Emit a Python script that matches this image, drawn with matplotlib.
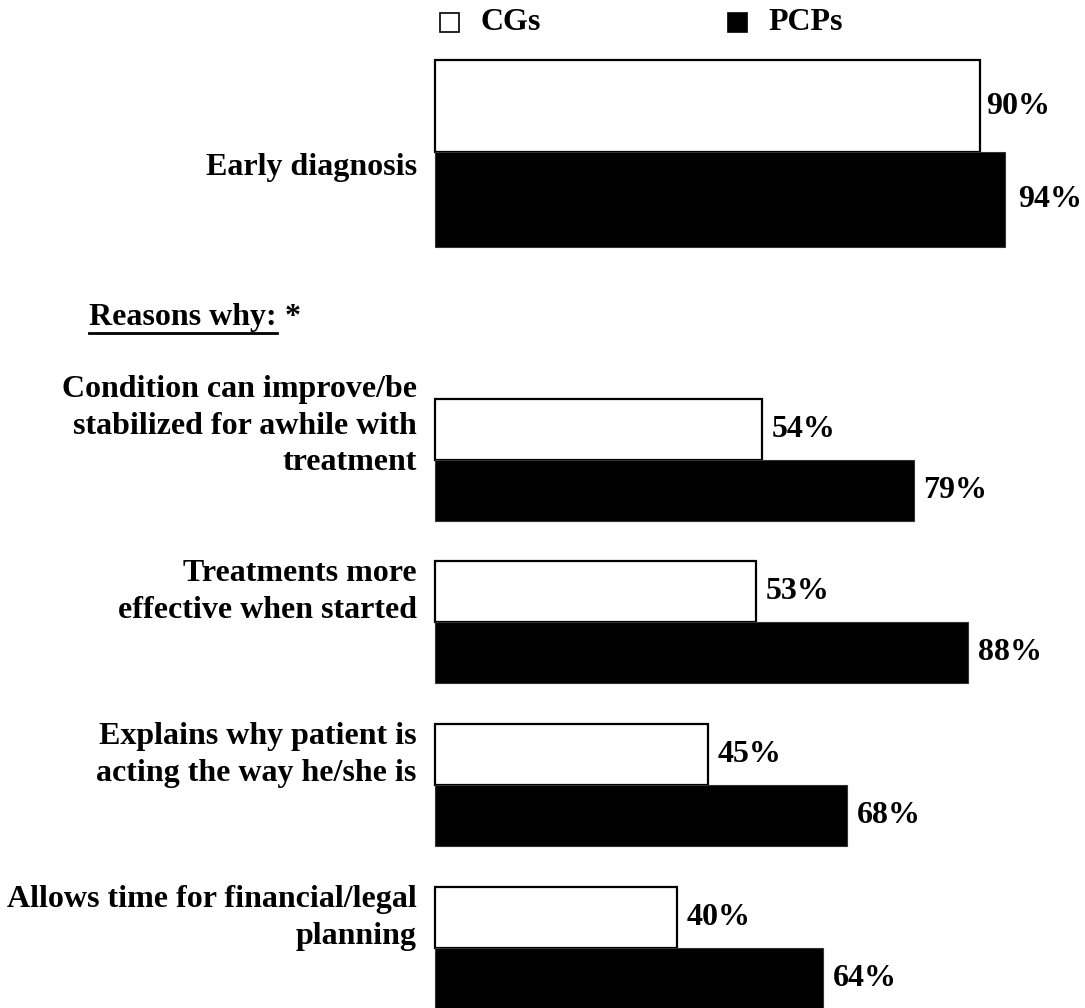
import matplotlib
matplotlib.use("Agg")
import matplotlib.pyplot as plt
from matplotlib.patches import Rectangle
from matplotlib.lines import Line2D

# chart data
categories = ["Early diagnosis",
              "Condition can improve/be\nstabilized for awhile with\ntreatment",
              "Treatments more\neffective when started",
              "Explains why patient is\nacting the way he/she is",
              "Allows time for financial/legal\nplanning"]
cg_values = [90, 54, 53, 45, 40]
pcp_values = [94, 79, 88, 68, 64]
series_names = ["CGs", "PCPs"]
section_title = "Reasons why:"

# layout, in pixels of the 1085 x 1008 figure
W, H = 1085, 1008
split_y = [152, 460, 622, 785, 948]   # line between the two bars of a group
cg_h = [92, 61, 61, 61, 61]
pcp_h = [95, 61, 61, 61, 61]
label_y = [168, 426, 592, 755, 918]
cg_off = [4, 7, 7, 7, 7]      # gap bar end -> value label (points)
pcp_off = [10, 7, 7, 7, 7]

plt.rcParams['font.family'] = ['Liberation Serif', 'DejaVu Serif']
plt.rcParams['font.weight'] = 'bold'
FS = 23

fig = plt.figure(figsize=(W / 100, H / 100), dpi=100)
# x axis: 0 % at pixel 435, 6.06 px per %
ax = fig.add_axes([435 / W, 0, 606 / W, 1])
ax.set_xlim(0, 100)
ax.set_ylim(H, 0)
ax.axis('off')

cg_top = [s - h for s, h in zip(split_y, cg_h)]
ax.barh(cg_top, cg_values, height=cg_h, align='edge', color='white',
        edgecolor='black', linewidth=1.6, clip_on=False)
ax.barh(split_y, pcp_values, height=pcp_h, align='edge', color='black',
        edgecolor='#333333', linewidth=0.8, clip_on=False)

for i, cat in enumerate(categories):
    ax.text(-3, label_y[i], cat, ha='right', va='center', fontsize=FS,
            linespacing=1.35, clip_on=False)
    ax.annotate(f"{cg_values[i]}%", (cg_values[i], split_y[i] - cg_h[i] / 2),
                xytext=(cg_off[i], 0), textcoords='offset points', ha='left',
                va='center', fontsize=FS)
    ax.annotate(f"{pcp_values[i]}%", (pcp_values[i], split_y[i] + pcp_h[i] / 2),
                xytext=(pcp_off[i], 0), textcoords='offset points', ha='left',
                va='center', fontsize=FS)

# legend across the top
fig.add_artist(Rectangle((440 / W, 1 - 32 / H), 19 / W, 19 / H, facecolor='white',
                         edgecolor='black', linewidth=1.2))
fig.text(480 / W, 1 - 22 / H, series_names[0], ha='left', va='center', fontsize=FS)
fig.add_artist(Rectangle((728 / W, 1 - 32 / H), 19 / W, 19 / H, facecolor='black',
                         edgecolor='black', linewidth=1.2))
fig.text(768 / W, 1 - 22 / H, series_names[1], ha='left', va='center', fontsize=FS)

# "Reasons why: *" with underline
t = fig.text(89 / W, 1 - 317 / H, section_title, ha='left', va='center', fontsize=FS)
fig.canvas.draw()
bb = t.get_window_extent(fig.canvas.get_renderer())
fig.add_artist(Line2D([bb.x0 / W, bb.x1 / W], [(bb.y0 - 1) / H, (bb.y0 - 1) / H],
                      color='black', linewidth=2))
fig.text((bb.x1 + 8) / W, 1 - 317 / H, "*", ha='left', va='center', fontsize=FS)

fig.savefig("out.png", dpi=100, facecolor='white')
